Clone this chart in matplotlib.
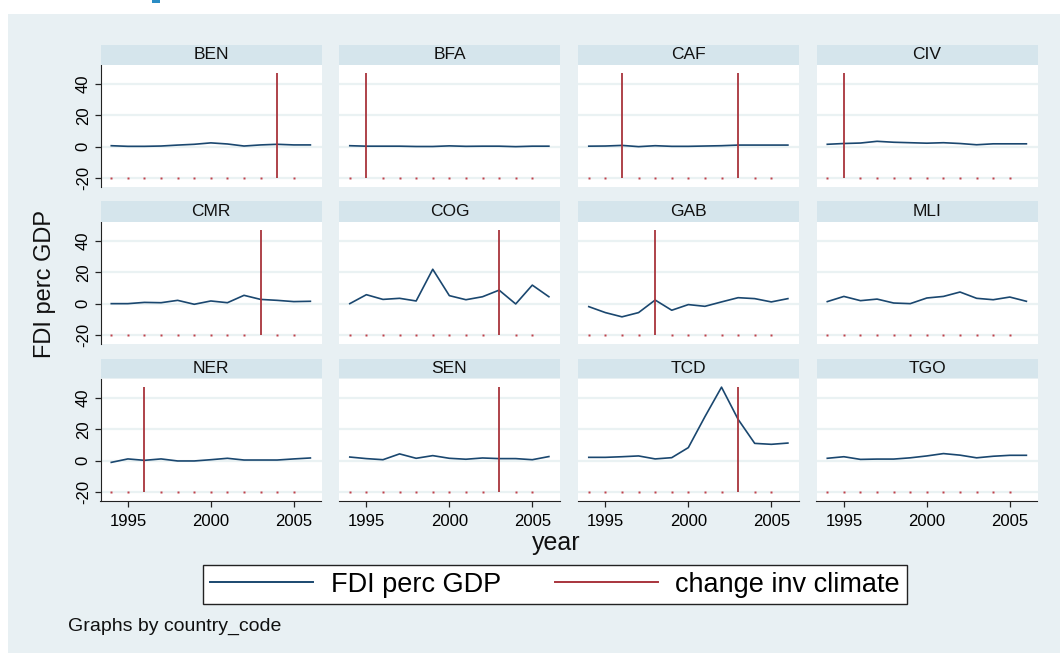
import matplotlib
matplotlib.use('Agg')
import matplotlib.pyplot as plt
from matplotlib.patches import Rectangle
from matplotlib.lines import Line2D
import numpy as np

plt.rcParams['font.family'] = ['Liberation Sans', 'DejaVu Sans']

# data
countries = ['BEN', 'BFA', 'CAF', 'CIV', 'CMR', 'COG', 'GAB', 'MLI',
             'NER', 'SEN', 'TCD', 'TGO']
years = list(range(1994, 2007))
climate_years = list(range(1994, 2006))   # years where the climate variable exists

fdi_BEN = [0.6, 0.2, 0.2, 0.4, 1.0, 1.5, 2.4, 1.7, 0.4, 1.1, 1.5, 1.1, 1.1]
fdi_BFA = [0.6, 0.3, 0.3, 0.3, 0.1, 0.1, 0.5, 0.2, 0.3, 0.3, 0.0, 0.3, 0.3]
fdi_CAF = [0.3, 0.4, 0.8, 0.0, 0.6, 0.2, 0.2, 0.4, 0.6, 1.0, 1.0, 1.0, 1.0]
fdi_CIV = [1.5, 2.0, 2.3, 3.4, 2.8, 2.5, 2.2, 2.5, 2.0, 1.2, 1.8, 1.8, 1.8]
fdi_CMR = [0.0, 0.0, 0.8, 0.6, 2.1, -0.4, 1.7, 0.6, 5.3, 2.7, 2.1, 1.3, 1.5]
fdi_COG = [0.0, 5.7, 2.7, 3.4, 1.7, 21.9, 5.1, 2.5, 4.4, 8.6, -0.2, 11.8, 4.4]
fdi_GAB = [-1.9, -5.7, -8.4, -5.7, 2.3, -4.2, -0.6, -1.7, 1.1, 3.8, 3.2, 1.1, 3.2]
fdi_MLI = [1.3, 4.6, 1.9, 2.9, 0.4, 0.0, 3.6, 4.6, 7.4, 3.4, 2.5, 4.2, 1.5]
fdi_NER = [-1.1, 1.1, 0.2, 1.1, -0.2, -0.2, 0.6, 1.5, 0.4, 0.4, 0.4, 1.1, 1.7]
fdi_SEN = [2.3, 1.3, 0.6, 4.3, 1.5, 3.2, 1.5, 0.9, 1.7, 1.3, 1.3, 0.6, 2.6]
fdi_TCD = [2.1, 2.1, 2.5, 3.0, 1.1, 1.9, 8.3, 28.0, 46.8, 26.3, 11.0, 10.4, 11.2]
fdi_TGO = [1.5, 2.5, 0.8, 1.0, 1.0, 1.8, 3.0, 4.5, 3.5, 1.8, 2.8, 3.4, 3.4]
fdi_all = [fdi_BEN, fdi_BFA, fdi_CAF, fdi_CIV, fdi_CMR, fdi_COG, fdi_GAB,
           fdi_MLI, fdi_NER, fdi_SEN, fdi_TCD, fdi_TGO]

change_years = [[2004], [1995], [1996, 2003], [1995], [2003], [2003], [1998],
                [], [1996], [2003], [2003], []]
climate_low = -20
climate_high = 46.8

yticks = [-20, 0, 20, 40]
xticks = [1995, 2000, 2005]

# colours
bg = '#e8f0f3'
strip_bg = '#d5e5ec'
grid_c = '#eaf2f3'
blue = '#1a476f'
red = '#a8343c'

W, H = 1060, 653
fig = plt.figure(figsize=(W / 100, H / 100), dpi=100)
fig.patch.set_facecolor('white')

def fx(x):
    return x / W

def fy(y):
    return 1 - y / H

# outer background region
fig.patches.append(Rectangle((fx(8), 0), 1 - fx(8), fy(14), transform=fig.transFigure,
                             facecolor=bg, edgecolor='none', zorder=-10))
fig.patches.append(Rectangle((fx(152), fy(3)), fx(8), 3 / H, transform=fig.transFigure,
                             facecolor='#2a8cc4', edgecolor='none', zorder=-9))

lefts = [100.5, 339, 578, 816.5]
tops = [65, 222, 379]
pw, ph, sh = 221, 122, 20

for i, code in enumerate(countries):
    r, c = divmod(i, 4)
    l, t = lefts[c], tops[r]
    ax = fig.add_axes([fx(l), fy(t + ph), pw / W, ph / H])
    ax.set_facecolor('white')
    ax.set_xlim(1993.35, 2006.67)
    ax.set_ylim(-25.7, 52)
    for g in yticks:
        ax.axhline(g, color=grid_c, lw=1.6, zorder=0)

    ax.plot(years, fdi_all[i], color=blue, lw=1.2, zorder=3)
    dots = [yr for yr in climate_years if yr not in change_years[i]]
    ax.plot(dots, [climate_low] * len(dots), ls='none', marker='s', ms=1.5,
            color='#c0424c', mec='none', zorder=2)
    for cy in change_years[i]:
        ax.vlines(cy, climate_low, climate_high, color=red, lw=1.3, zorder=4)

    for s in ax.spines.values():
        s.set_visible(False)
    ax.set_yticks(yticks)
    ax.set_xticks(xticks)
    ax.tick_params(axis='both', direction='out', length=4, width=0.9,
                   color='#222222', labelsize=12)
    if c == 0:
        ax.spines['left'].set_visible(True)
        ax.spines['left'].set_color('#222222')
        ax.set_yticklabels([str(v) for v in yticks], rotation=90, va='center')
        ax.tick_params(axis='y', pad=3)
    else:
        ax.tick_params(axis='y', left=False, labelleft=False)
    if r == 2:
        ax.spines['bottom'].set_visible(True)
        ax.spines['bottom'].set_color('#222222')
        ax.set_xticklabels([str(v) for v in xticks])
        ax.tick_params(axis='x', pad=5)
    else:
        ax.tick_params(axis='x', bottom=False, labelbottom=False)

    # strip title
    sax = fig.add_axes([fx(l), fy(t - 0.5), pw / W, sh / H])
    sax.set_facecolor(strip_bg)
    sax.set_xticks([])
    sax.set_yticks([])
    for s in sax.spines.values():
        s.set_visible(False)
    sax.text(0.5, 0.5, code, ha='center', va='center', fontsize=12.5,
             transform=sax.transAxes, color='#111111')

fig.text(fx(45), fy(284), 'FDI perc GDP', rotation=90, ha='center', va='center',
         fontsize=17, color='#111111')
fig.text(fx(556), fy(543), 'year', ha='center', va='center', fontsize=18,
         color='#111111')

handles = [Line2D([], [], color=blue, lw=1.4), Line2D([], [], color=red, lw=1.4)]
leg = fig.legend(handles, ['FDI perc GDP', 'change inv climate'], ncol=2,
                 loc='center', bbox_to_anchor=(fx(555), fy(584.5)),
                 fontsize=19.5, frameon=True, fancybox=False, edgecolor='#222222',
                 facecolor='white', framealpha=1, handlelength=3.8,
                 handletextpad=0.65, columnspacing=2.0, borderpad=0.25)
leg.get_frame().set_linewidth(1.0)

fig.text(fx(68), fy(626), 'Graphs by country_code', ha='left', va='center',
         fontsize=14, color='#111111')

fig.savefig('out.png', dpi=100, facecolor=fig.get_facecolor())
